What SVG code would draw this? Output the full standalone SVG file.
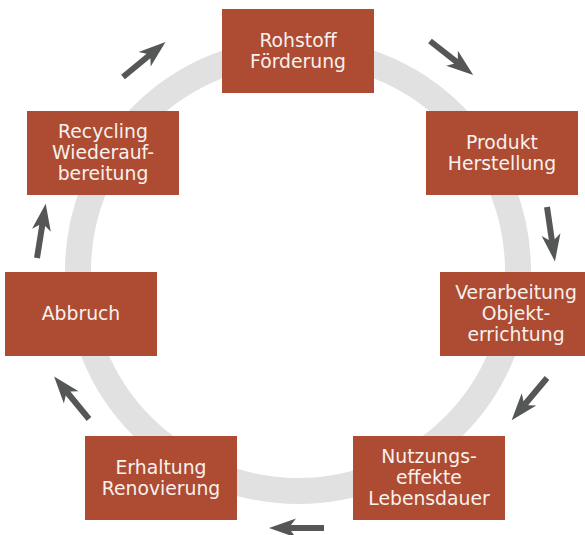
<svg xmlns="http://www.w3.org/2000/svg" width="585" height="535" viewBox="0 0 585 535">
<style>
.box{fill:#ad4b33}
.lbl{font-family:"DejaVu Sans",Verdana,sans-serif;font-size:18.8px;fill:#f8f1ec;text-anchor:middle}
.arr{fill:#555756}
</style>
<defs>
<path id="arr" d="M0,-3 L33,-3 L28,-9.5 L55,0 L28,9.5 L33,3 L0,3 Z"/>
</defs>
<rect width="585" height="535" fill="#ffffff"/>
<circle cx="298" cy="271" r="220" fill="none" stroke="#e0e1e0" stroke-width="26"/>
<g id="connectors" class="arr">
<use href="#arr" transform="translate(123,77) rotate(-39.4)"/>
<use href="#arr" transform="translate(430,41) rotate(38.2)"/>
<use href="#arr" transform="translate(547,207) rotate(81.7)"/>
<use href="#arr" transform="translate(547,378) rotate(130)"/>
<use href="#arr" transform="translate(324,528) rotate(180)"/>
<use href="#arr" transform="translate(89,419) rotate(230.6)"/>
<use href="#arr" transform="translate(37,258) rotate(-80.9)"/>
</g>
<g id="rohstoff">
<rect class="box" x="222" y="9" width="152" height="84"/>
<text class="lbl" x="298" y="47">Rohstoff</text>
<text class="lbl" x="298" y="68">Förderung</text>
</g>
<g id="produkt">
<rect class="box" x="426" y="111" width="152" height="84"/>
<text class="lbl" x="502" y="149">Produkt</text>
<text class="lbl" x="502" y="170">Herstellung</text>
</g>
<g id="verarbeitung">
<rect class="box" x="440" y="272" width="152" height="84"/>
<text class="lbl" x="516" y="299">Verarbeitung</text>
<text class="lbl" x="516" y="320">Objekt-</text>
<text class="lbl" x="516" y="341">errichtung</text>
</g>
<g id="nutzung">
<rect class="box" x="353" y="436" width="152" height="84"/>
<text class="lbl" x="429" y="463">Nutzungs-</text>
<text class="lbl" x="429" y="484">effekte</text>
<text class="lbl" x="429" y="505">Lebensdauer</text>
</g>
<g id="erhaltung">
<rect class="box" x="85" y="436" width="152" height="84"/>
<text class="lbl" x="161" y="474">Erhaltung</text>
<text class="lbl" x="161" y="495">Renovierung</text>
</g>
<g id="abbruch">
<rect class="box" x="5" y="272" width="152" height="84"/>
<text class="lbl" x="81" y="320">Abbruch</text>
</g>
<g id="recycling">
<rect class="box" x="27" y="111" width="152" height="84"/>
<text class="lbl" x="103" y="138">Recycling</text>
<text class="lbl" x="103" y="159">Wiederauf-</text>
<text class="lbl" x="103" y="180">bereitung</text>
</g>
</svg>
